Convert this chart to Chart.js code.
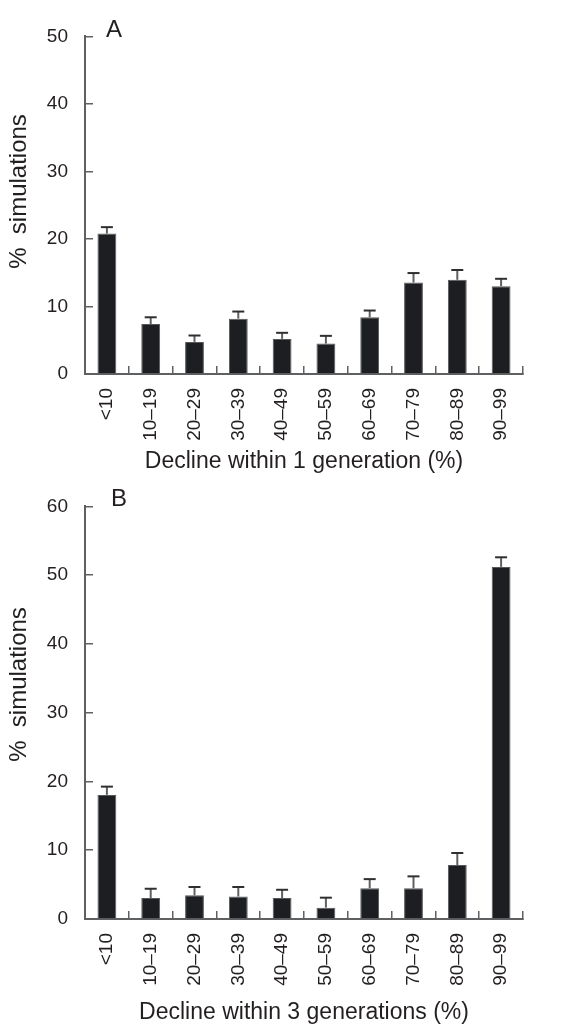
<!DOCTYPE html>
<html>
<head>
<meta charset="utf-8">
<script src="https://cdn.jsdelivr.net/npm/chart.js@4.4.1/dist/chart.umd.min.js"></script>
<style>
  html, body { margin: 0; padding: 0; background: #fff; }
  #wrap { position: relative; width: 582px; height: 1032px; }
  canvas { position: absolute; left: 0; }
</style>
</head>
<body>
<div id="wrap">
  <canvas id="chartA" width="582" height="480" style="top:0"></canvas>
  <canvas id="chartB" width="582" height="562" style="top:470px"></canvas>
</div>
<script>
const categories = ['<10', '10–19', '20–29', '30–39', '40–49', '50–59', '60–69', '70–79', '80–89', '90–99'];

// panel A: decline within 1 generation
const meanA = [20.8, 7.4, 4.75, 8.2, 5.2, 4.5, 8.4, 13.55, 13.95, 13.0];
const errA = [0.95, 1.0, 0.95, 1.05, 0.9, 1.15, 1.0, 1.4, 1.45, 1.1];

// panel B: decline within 3 generations
const meanB = [18.05, 3.05, 3.45, 3.27, 3.05, 1.65, 4.47, 4.47, 7.85, 51.2];
const errB = [1.2, 1.35, 1.2, 1.38, 1.2, 1.45, 1.33, 1.73, 1.75, 1.4];

const yMaxA = 50;
const yMaxB = 60;

const ink = '#231f20';
const axisGrey = '#5f6062';
const barFill = '#1d1e21';

Chart.defaults.font.family = "'Liberation Sans', Arial, sans-serif";
Chart.defaults.color = ink;
Chart.defaults.animation = false;

// upper error bars only
const errorBars = {
    id: 'errorBars',
    afterDatasetsDraw(chart, args, opts) {
        const { ctx, scales: { y } } = chart;
        const data = chart.data.datasets[0].data;
        chart.getDatasetMeta(0).data.forEach((bar, i) => {
            const yBase = y.getPixelForValue(data[i]);
            const yTop = y.getPixelForValue(data[i] + opts.errs[i]);
            ctx.save();
            ctx.strokeStyle = axisGrey;
            ctx.lineWidth = 2;
            ctx.beginPath();
            ctx.moveTo(bar.x, yBase);
            ctx.lineTo(bar.x, yTop);
            ctx.stroke();
            ctx.strokeStyle = '#2e2f31';
            ctx.beginPath();
            ctx.moveTo(bar.x - 6, yTop);
            ctx.lineTo(bar.x + 6, yTop);
            ctx.stroke();
            ctx.restore();
        });
    }
};

// panel letter and rotated y title
const panelText = {
    id: 'panelText',
    afterDraw(chart, args, opts) {
        const { ctx } = chart;
        ctx.save();
        ctx.fillStyle = ink;
        ctx.font = "24px 'Liberation Sans', Arial, sans-serif";
        ctx.textBaseline = 'alphabetic';
        ctx.fillText(opts.letter, opts.letterX, opts.letterY);
        ctx.translate(19.5, opts.titleY);
        ctx.rotate(-Math.PI / 2);
        ctx.textAlign = 'center';
        ctx.textBaseline = 'middle';
        ctx.fillText('%  simulations', 0, 0);
        ctx.restore();
    }
};

function makeChart(id, cfg) {
    return new Chart(document.getElementById(id), {
        type: 'bar',
        data: {
            labels: categories,
            datasets: [{
                data: cfg.means,
                backgroundColor: barFill,
                borderColor: '#55575a',
                borderWidth: 1,
                borderSkipped: 'bottom',
                barPercentage: 0.43,
                categoryPercentage: 1
            }]
        },
        options: {
            responsive: false,
            layout: { padding: { top: cfg.padTop, right: 59, left: 0, bottom: 0 } },
            plugins: {
                legend: { display: false },
                tooltip: { enabled: false },
                errorBars: { errs: cfg.errs },
                panelText: { letter: cfg.letter, letterX: cfg.letterX, letterY: cfg.letterY, titleY: cfg.titleY }
            },
            scales: {
                x: {
                    grid: { drawOnChartArea: false, tickLength: -8, color: axisGrey, lineWidth: 1.5 },
                    border: { color: axisGrey, width: 2 },
                    ticks: { font: { size: 19 }, color: ink, minRotation: 90, maxRotation: 90, padding: 22, autoSkip: false },
                    title: { display: true, text: cfg.xTitle, font: { size: 23 }, color: ink, padding: { top: 0, bottom: cfg.titlePad } },
                    afterFit: s => { s.height = cfg.xHeight; }
                },
                y: {
                    min: 0,
                    max: cfg.yMax,
                    grid: { drawOnChartArea: false, tickLength: -8, color: axisGrey, lineWidth: 1.5 },
                    border: { color: axisGrey, width: 2 },
                    ticks: { stepSize: 10, font: { size: 19 }, color: ink, padding: 25 },
                    afterFit: s => { s.width = 85; }
                }
            }
        },
        plugins: [errorBars, panelText]
    });
}

makeChart('chartA', {
    means: meanA, errs: errA, yMax: yMaxA,
    xTitle: 'Decline within 1 generation (%)',
    padTop: 14, xHeight: 106, titlePad: 5,
    letter: 'A', letterX: 106, letterY: 37, titleY: 191.5
});

makeChart('chartB', {
    means: meanB, errs: errB, yMax: yMaxB,
    xTitle: 'Decline within 3 generations (%)',
    padTop: 16, xHeight: 113, titlePad: 6,
    letter: 'B', letterX: 111, letterY: 36, titleY: 214.5
});
</script>
</body>
</html>
